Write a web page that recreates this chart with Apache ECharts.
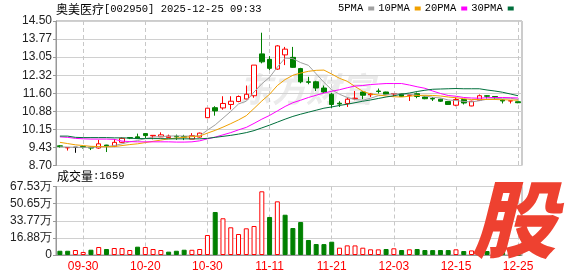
<!DOCTYPE html>
<html><head><meta charset="utf-8">
<script src="https://cdn.jsdelivr.net/npm/echarts@6/dist/echarts.min.js"></script>
<style>html,body{margin:0;padding:0;background:#fff}#c{width:578px;height:276px}</style>
</head><body><div id="c"></div>
<script>
const stockName = '奥美医疗';
const stockCode = '[002950]';
const stamp = ' 2025-12-25 09:33';
const dates = ['09-25','09-26','09-29','09-30','10-09','10-10','10-13','10-14','10-15','10-16','10-17','10-20','10-21','10-22','10-23','10-24','10-27','10-28','10-29','10-30','10-31','11-03','11-04','11-05','11-06','11-07','11-10','11-11','11-12','11-13','11-14','11-17','11-18','11-19','11-20','11-21','11-24','11-25','11-26','11-27','11-28','12-01','12-02','12-03','12-04','12-05','12-08','12-09','12-10','12-11','12-12','12-15','12-16','12-17','12-18','12-19','12-22','12-23','12-24','12-25'];
const labelDates = ['09-30','10-20','10-30','11-11','11-21','12-03','12-15','12-25'];
const opens  = [9.49,9.41,9.43,9.46,9.43,9.40,9.52,9.47,9.63,9.82,9.85,9.98,9.89,9.85,9.82,9.87,9.86,9.76,9.84,10.62,11.02,11.01,11.15,11.27,11.37,11.50,13.18,12.96,12.57,13.14,13.04,12.59,12.06,12.06,11.81,11.56,11.20,11.19,11.38,11.65,11.54,11.69,11.65,11.57,11.58,11.52,11.58,11.45,11.39,11.36,11.27,11.12,11.35,11.09,11.32,11.50,11.47,11.33,11.29,11.26];
const closes = [9.46,9.42,9.43,9.44,9.40,9.57,9.48,9.63,9.79,9.80,9.78,9.90,9.91,9.93,9.88,9.85,9.84,9.90,10.00,11.00,10.89,11.19,11.28,11.47,11.56,12.73,12.86,12.60,13.50,13.37,12.64,12.06,12.04,11.81,11.65,11.15,11.17,11.36,11.40,11.52,11.57,11.67,11.56,11.59,11.47,11.53,11.47,11.38,11.37,11.28,11.15,11.35,11.21,11.28,11.50,11.48,11.45,11.29,11.30,11.22];
const lows   = [9.42,9.30,9.21,9.38,9.32,9.37,9.24,9.44,9.61,9.76,9.77,9.80,9.75,9.84,9.80,9.73,9.72,9.76,9.82,10.60,10.70,10.94,10.95,11.24,11.36,11.42,12.80,12.53,12.54,12.73,12.62,12.00,11.96,11.69,11.61,11.01,11.05,11.05,11.32,11.36,11.45,11.59,11.53,11.47,11.45,11.29,11.40,11.36,11.29,11.25,11.13,11.08,11.15,11.08,11.30,11.39,11.35,11.19,11.19,11.20];
const highs  = [9.52,9.43,9.44,9.47,9.45,9.73,9.53,9.76,9.82,9.84,9.98,9.99,9.91,10.03,9.94,9.94,9.93,10.00,10.02,11.00,11.08,11.48,11.48,11.51,11.91,12.73,14.03,13.09,13.53,13.46,13.46,12.62,12.26,12.10,11.91,11.61,11.28,11.43,11.69,11.69,11.61,11.79,11.66,11.61,11.60,11.53,11.63,11.47,11.45,11.38,11.28,11.43,11.36,11.30,11.55,11.52,11.48,11.35,11.30,11.26];
const volumes = [42000,41800,49000,30000,52000,79000,59000,69000,68500,49000,82000,79000,59000,49000,33000,42000,52000,51500,59000,197000,424000,362000,273000,207000,263000,286000,628000,375000,529000,397000,266000,325000,148000,108000,107500,131000,72000,95000,94500,72000,56000,55500,59000,66000,49000,56000,59000,49000,48500,49000,48800,56000,39000,45000,60000,39000,35000,30000,23000,1659];
const ma5  = [9.45,9.44,9.43,9.43,9.43,9.45,9.46,9.50,9.57,9.65,9.70,9.78,9.84,9.86,9.88,9.89,9.88,9.88,9.89,10.12,10.33,10.60,10.87,11.17,11.28,11.65,11.98,12.24,12.65,13.01,12.99,12.83,12.72,12.38,12.04,11.74,11.56,11.43,11.35,11.32,11.40,11.50,11.54,11.58,11.57,11.56,11.52,11.49,11.44,11.41,11.33,11.31,11.27,11.25,11.30,11.36,11.38,11.40,11.40,11.35];
const ma10 = [9.63,9.58,9.53,9.50,9.47,9.46,9.45,9.46,9.50,9.54,9.57,9.62,9.67,9.72,9.77,9.80,9.83,9.86,9.88,10.00,10.11,10.24,10.38,10.53,10.70,10.99,11.29,11.56,11.91,12.15,12.32,12.41,12.48,12.52,12.53,12.37,12.20,12.08,11.87,11.68,11.57,11.53,11.49,11.46,11.45,11.48,11.51,11.52,11.51,11.49,11.45,11.42,11.38,11.35,11.35,11.35,11.35,11.34,11.33,11.32];
const ma20 = [9.85,9.83,9.79,9.77,9.76,9.76,9.76,9.75,9.68,9.66,9.65,9.65,9.65,9.65,9.65,9.64,9.64,9.65,9.69,9.77,9.84,9.93,10.02,10.13,10.23,10.39,10.56,10.71,10.89,11.07,11.22,11.32,11.43,11.52,11.61,11.68,11.74,11.82,11.89,11.91,11.95,11.97,11.99,11.99,11.99,11.93,11.86,11.80,11.69,11.59,11.51,11.48,11.43,11.41,11.40,11.42,11.43,11.43,11.42,11.41];
const ma30 = [9.88,9.88,9.83,9.82,9.82,9.82,9.82,9.81,9.81,9.80,9.78,9.78,9.78,9.78,9.77,9.77,9.77,9.77,9.77,9.79,9.83,9.87,9.91,9.96,10.02,10.10,10.21,10.32,10.44,10.56,10.67,10.76,10.84,10.92,11.00,11.05,11.11,11.16,11.22,11.28,11.33,11.39,11.45,11.50,11.56,11.61,11.67,11.72,11.76,11.77,11.78,11.79,11.78,11.78,11.78,11.73,11.69,11.64,11.57,11.50];
const priceTicks = ['8.70','9.43','10.15','10.88','11.60','12.32','13.05','13.77','14.50'];
const volTicks = ['0','16.88万','33.77万','50.65万','67.53万'];
const maNames = ['5PMA','10PMA','20PMA','30PMA'];

const UP = '#ff0000', DOWN = '#008000';
const priceMin = parseFloat(priceTicks[0]), priceMax = parseFloat(priceTicks[priceTicks.length-1]);
const priceStep = (priceMax - priceMin) / (priceTicks.length - 1);
const volMax = 675300, volStep = volMax / (volTicks.length - 1);

const candles = dates.map((d, i) => [opens[i], closes[i], lows[i], highs[i]]);
const volData = volumes.map((v, i) => {
  const prev = i > 0 ? closes[i-1] : opens[0];
  const up = closes[i] > prev;
  return {value: v, itemStyle: {color: up ? '#ffffff' : DOWN, borderColor: up ? UP : DOWN, borderWidth: 1}};
});
const isLabel = (idx, val) => labelDates.indexOf(dates[idx]) >= 0;

const chart = echarts.init(document.getElementById('c'), null, {renderer: 'canvas'});
const gridW = 466;
const axisLabelFont = {fontFamily: 'Liberation Sans', fontSize: 12, color: '#222'};
const maColors = ['#a0a0a0', '#f0a000', '#ff00ff', '#006f3c'];
const maData = [ma5, ma10, ma20, ma30];

chart.setOption({
  animation: false,
  backgroundColor: '#fff',
  legend: {
    data: maNames, left: 338, top: 3, padding: 0, itemGap: 4, itemWidth: 6, itemHeight: 4,
    align: 'right', icon: 'rect', selectedMode: false,
    textStyle: {fontFamily: 'Liberation Mono', fontSize: 10.5, color: '#000'}
  },
  grid: [
    {left: 56, top: 21, width: gridW, height: 144.5, show: true, borderColor: '#999', borderWidth: 1},
    {left: 56, top: 186.5, width: gridW, height: 68.5, show: true, borderColor: '#999', borderWidth: 1}
  ],
  xAxis: [
    {type: 'category', data: dates, gridIndex: 0, boundaryGap: true,
     axisLine: {show: false}, axisTick: {show: false}, axisLabel: {show: false},
     splitLine: {show: true, interval: isLabel, alignWithLabel: true, lineStyle: {color: '#c8c8c8', type: [4, 3], width: 1}}},
    {type: 'category', data: dates, gridIndex: 1, boundaryGap: true,
     axisLine: {show: true, lineStyle: {color: '#999'}}, axisTick: {show: false},
     axisLabel: {show: true, interval: isLabel, margin: 6, fontFamily: 'Liberation Sans', fontSize: 12, color: '#ff0000'},
     splitLine: {show: true, interval: isLabel, alignWithLabel: true, lineStyle: {color: '#c8c8c8', type: [4, 3], width: 1}}}
  ],
  yAxis: [
    {type: 'value', gridIndex: 0, min: priceMin, max: priceMax, interval: priceStep,
     axisLine: {show: true, lineStyle: {color: '#999'}},
     axisTick: {show: true, length: 3, lineStyle: {color: '#999'}},
     axisLabel: Object.assign({margin: 4, formatter: v => priceTicks[Math.round((v - priceMin) / priceStep)]}, axisLabelFont),
     splitLine: {show: true, lineStyle: {color: '#d0d0d0'}}},
    {type: 'value', gridIndex: 1, min: 0, max: volMax, interval: volStep,
     axisLine: {show: true, lineStyle: {color: '#999'}},
     axisTick: {show: true, length: 3, lineStyle: {color: '#999'}},
     axisLabel: Object.assign({margin: 4, formatter: v => volTicks[Math.round(v / volStep)]}, axisLabelFont),
     splitLine: {show: true, lineStyle: {color: '#d0d0d0'}}}
  ],
  graphic: [
    {type: 'text', z: -10, x: 306, y: 89, silent: true,
     style: {text: '东方财富', align: 'center', verticalAlign: 'middle', font: 'italic bold 34px "Noto Sans CJK SC"', fill: '#ebebeb'}},
    {type: 'text', x: 56, y: 9, silent: true,
     style: {text: '{a|' + stockName + '}{b|' + stockCode + stamp + '}', verticalAlign: 'middle',
       rich: {a: {fontFamily: 'Noto Sans CJK SC', fontSize: 12, fill: '#000'}, b: {fontFamily: 'Liberation Mono', fontSize: 10.5, fill: '#000'}}}},
    {type: 'text', x: 57, y: 176, silent: true,
     style: {text: '{a|成交量}{b|:' + volumes[volumes.length-1] + '}', verticalAlign: 'middle',
       rich: {a: {fontFamily: 'Noto Sans CJK SC', fontSize: 12, fill: '#000'}, b: {fontFamily: 'Liberation Mono', fontSize: 10.5, fill: '#000'}}}},
    {type: 'text', x: 514, y: 219, z: 100, silent: true,
     style: {text: '股', align: 'center', verticalAlign: 'middle', font: 'italic 900 84px "Noto Sans CJK SC"', fill: '#ee4130'}}
  ],
  series: [
    {type: 'candlestick', name: 'K', xAxisIndex: 0, yAxisIndex: 0, data: candles, barWidth: 5,
     itemStyle: {color: '#ffffff', color0: DOWN, borderColor: UP, borderColor0: DOWN, borderColorDoji: '#000000', borderWidth: 1}},
    ...maNames.map((n, k) => ({
      type: 'line', name: n, xAxisIndex: 0, yAxisIndex: 0, data: maData[k], showSymbol: false, symbol: 'none',
      color: maColors[k], lineStyle: {width: 1, color: maColors[k]}, itemStyle: {color: maColors[k]}
    })),
    {type: 'bar', name: 'VOL', xAxisIndex: 1, yAxisIndex: 1, data: volData, barWidth: 5}
  ]
});
</script></body></html>
